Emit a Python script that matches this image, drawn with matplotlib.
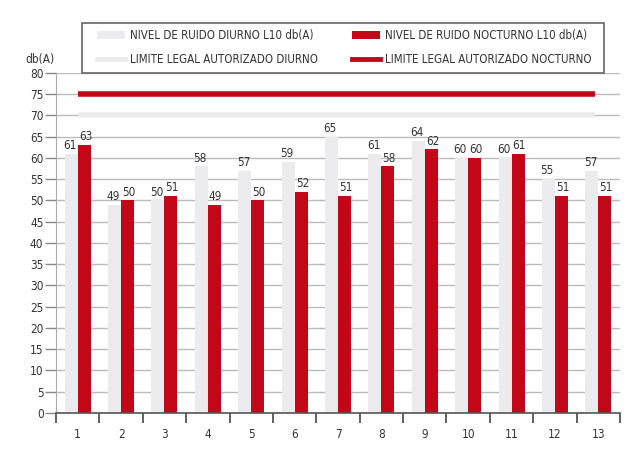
#!/usr/bin/env python3
# Noise levels per measuring point, day vs night, with legal limits

import matplotlib.pyplot as plt
from matplotlib.patches import Patch, Rectangle
from matplotlib.lines import Line2D
import numpy as np

plt.rcParams['font.family'] = ['DejaVu Sans']
plt.rcParams['font.stretch'] = 'condensed'

points = [str(i) for i in range(1, 14)]
day_level = [61, 49, 50, 58, 57, 59, 65, 61, 64, 60, 60, 55, 57]
night_level = [63, 50, 51, 49, 50, 52, 51, 58, 62, 60, 61, 51, 51]
day_limit = 70
night_limit = 75

gray = '#ebebed'
red = '#c20818'
text_col = '#333333'

fig = plt.figure(figsize=(6.4, 4.58), dpi=100)
ax = fig.add_axes([0.0875, 0.0983, 0.8813, 0.7427])

x = np.arange(1, len(points) + 1)
w = 0.3
ax.bar(x - w / 2, day_level, w, color=gray, zorder=2)
ax.bar(x + w / 2, night_level, w, color=red, zorder=2)

for xi, d, n in zip(x, day_level, night_level):
    ax.text(xi - w / 2 - 0.03, d + 0.4, str(d), ha='center', va='bottom',
            fontsize=8.5, color=text_col)
    ax.text(xi + w / 2 + 0.03, n + 0.4, str(n), ha='center', va='bottom',
            fontsize=8.5, color=text_col)

ax.hlines(day_limit, 1, 12.93, color=gray, lw=4, zorder=3)
ax.hlines(night_limit, 1, 12.93, color=red, lw=4, zorder=3)

ax.set_xlim(0.5, 13.5)
ax.set_ylim(0, 80)
ax.set_yticks(range(0, 81, 5))
ax.yaxis.grid(True, color='#bbbbbb', lw=1, zorder=0)
ax.set_axisbelow(True)

ax.set_xticks(x)
ax.set_xticklabels(points)
ax.set_xticks(np.arange(0.5, 14, 1), minor=True)
ax.tick_params(axis='x', which='major', length=0, pad=11, labelsize=8.5,
               labelcolor=text_col)
ax.tick_params(axis='x', which='minor', length=7, width=1.2, color='#444444',
               direction='out')
ax.tick_params(axis='y', length=8, width=1, color='#888888', pad=1,
               labelsize=8.5, labelcolor=text_col)

for s in ['top', 'right']:
    ax.spines[s].set_visible(False)
ax.spines['left'].set_color('#aaaaaa')
ax.spines['bottom'].set_color('#555555')
ax.spines['bottom'].set_linewidth(1.2)

fig.text(0.039, 0.862, 'db(A)', fontsize=8.5, color=text_col)

# legend frame drawn by hand, legend itself without frame
fig.patches.append(Rectangle((81.5 / 640, 1 - 73 / 458), 522.5 / 640, 50 / 458,
                             transform=fig.transFigure, facecolor='white',
                             edgecolor='#666666', lw=1.2, zorder=5))

handles = [
    Patch(facecolor=gray, edgecolor='none'),
    Line2D([], [], color=gray, lw=3.5),
    Patch(facecolor=red, edgecolor='none'),
    Line2D([], [], color=red, lw=3.5),
]
labels = [
    'NIVEL DE RUIDO DIURNO L10 db(A)',
    'LIMITE LEGAL AUTORIZADO DIURNO',
    'NIVEL DE RUIDO NOCTURNO L10 db(A)',
    'LIMITE LEGAL AUTORIZADO NOCTURNO',
]
leg = fig.legend(handles, labels, ncol=2, loc='upper left',
                 bbox_to_anchor=(97 / 640, 1 - 29 / 458),
                 fontsize=8.3, frameon=False, handlelength=2.43,
                 handleheight=0.8, labelspacing=0.95, borderpad=0,
                 handletextpad=0.45, columnspacing=2.9, borderaxespad=0)
leg.set_zorder(6)
for t in leg.get_texts():
    t.set_color(text_col)

fig.savefig('out.png', dpi=100)
